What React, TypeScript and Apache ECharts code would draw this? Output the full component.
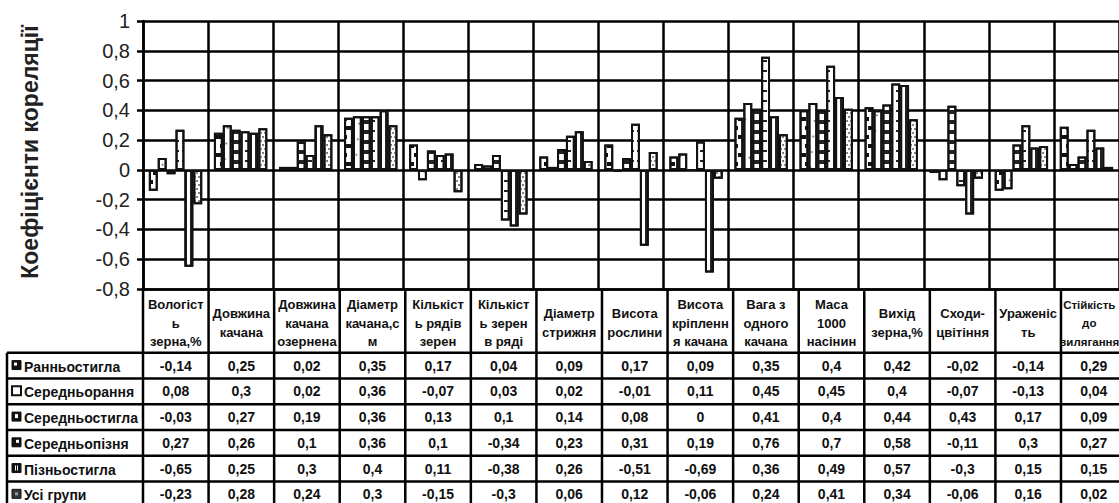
import React, { useEffect, useRef } from "react";
import * as echarts from "echarts";

const categories = [
  "Вологіст\nь\nзерна,%",
  "Довжина\nкачана",
  "Довжина\nкачана\nозернена",
  "Діаметр\nкачана,с\nм",
  "Кількіст\nь рядів\nзерен",
  "Кількіст\nь зерен\nв ряді",
  "Діаметр\nстрижня",
  "Висота\nрослини",
  "Висота\nкріпленн\nя качана",
  "Вага з\nодного\nкачана",
  "Маса\n1000\nнасінин",
  "Вихід\nзерна,%",
  "Сходи-\nцвітіння",
  "Ураженіс\nть",
  "Стійкість\nдо\nвилягання",
];

const seriesNames = [
  "Ранньостигла",
  "Середньорання",
  "Середньостигла",
  "Середньопізня",
  "Пізньостигла",
  "Усі групи",
];

const early = [-0.14, 0.25, 0.02, 0.35, 0.17, 0.04, 0.09, 0.17, 0.09, 0.35, 0.4, 0.42, -0.02, -0.14, 0.29];
const midEarly = [0.08, 0.3, 0.02, 0.36, -0.07, 0.03, 0.02, -0.01, 0.11, 0.45, 0.45, 0.4, -0.07, -0.13, 0.04];
const midRipe = [-0.03, 0.27, 0.19, 0.36, 0.13, 0.1, 0.14, 0.08, 0, 0.41, 0.4, 0.44, 0.43, 0.17, 0.09];
const midLate = [0.27, 0.26, 0.1, 0.36, 0.1, -0.34, 0.23, 0.31, 0.19, 0.76, 0.7, 0.58, -0.11, 0.3, 0.27];
const late = [-0.65, 0.25, 0.3, 0.4, 0.11, -0.38, 0.26, -0.51, -0.69, 0.36, 0.49, 0.57, -0.3, 0.15, 0.15];
const allGroups = [-0.23, 0.28, 0.24, 0.3, -0.15, -0.3, 0.06, 0.12, -0.06, 0.24, 0.41, 0.34, -0.06, 0.16, 0.02];

const seriesValues = [early, midEarly, midRipe, midLate, late, allGroups];

const yMin = -0.8;
const yMax = 1;
const yStep = 0.2;
const yTitle = "Коефіцієнти кореляції";

const FONT = '"Liberation Sans", Arial, Helvetica, sans-serif';
const W = 1119;
const H = 503;
const GRID_LEFT = 143;
const GRID_TOP = 21;
const GRID_BOTTOM_Y = 289;
const CAT_W = 65.57;
const HEADER_CY = 323;
const ROW_TOP = 352.7;
const ROW_H = 25.75;
const TABLE_LEFT = 7;
const INK = "#000";
const LW = 2.5;

const decals: any[] = [
  { symbol: "rect", symbolSize: 1, dashArrayX: [[5, 4], [0, 4, 5, 0]], dashArrayY: [4, 5], color: "#111" },
  { symbol: "rect", symbolSize: 0.5, rotation: Math.PI / 4, dashArrayX: [[3, 7]], dashArrayY: [3, 9], color: "#333" },
  { symbol: "rect", symbolSize: 1, dashArrayX: [[1, 0]], dashArrayY: [4, 6], color: "#222" },
  { symbol: "rect", symbolSize: 1, dashArrayX: [[4, 3]], dashArrayY: [2, 8], color: "#222" },
  { symbol: "rect", symbolSize: 1, dashArrayX: [[2, 3]], dashArrayY: [1, 0], color: "#222" },
  { symbol: "circle", symbolSize: 0.9, dashArrayX: [[2, 2], [0, 2, 2, 0]], dashArrayY: [2, 2], color: "#555" },
];

function fmt(v: number): string {
  const r = Math.round(v * 100) / 100;
  return String(r).replace(".", ",");
}

function txt(text: string, x: number, y: number, size: number, align: string): any {
  return {
    type: "text",
    silent: true,
    z: 51,
    x,
    y,
    style: {
      text,
      fontFamily: FONT,
      fontSize: size,
      fontWeight: "bold",
      fill: "#111",
      align,
      verticalAlign: "middle",
      textAlign: align,
      textVerticalAlign: "middle",
    },
  };
}

function buildGraphic(): any[] {
  const els: any[] = [];
  const bottom = H + 10;
  const right = W + 10;
  for (let k = 0; k <= categories.length; k++) {
    const x = GRID_LEFT + k * CAT_W;
    els.push({
      type: "line",
      silent: true,
      shape: { x1: x, y1: GRID_BOTTOM_Y, x2: x, y2: bottom },
      style: { stroke: INK, lineWidth: LW },
      z: 50,
    });
  }
  els.push({
    type: "line",
    silent: true,
    shape: { x1: TABLE_LEFT, y1: ROW_TOP, x2: TABLE_LEFT, y2: bottom },
    style: { stroke: INK, lineWidth: LW },
    z: 50,
  });
  for (let r = 0; r <= seriesNames.length; r++) {
    const y = ROW_TOP + r * ROW_H;
    els.push({
      type: "line",
      silent: true,
      shape: { x1: TABLE_LEFT, y1: y, x2: right, y2: y },
      style: { stroke: INK, lineWidth: LW },
      z: 50,
    });
  }
  // header cells (category names)
  const last = categories.length - 1;
  categories.forEach((c, i) => {
    const isLast = i === last;
    els.push({
      type: "text",
      silent: true,
      z: 51,
      x: GRID_LEFT + (i + 0.5) * CAT_W - (isLast ? 4.5 : 0),
      y: HEADER_CY,
      style: {
        text: c,
        fontFamily: FONT,
        fontSize: isLast ? 11.5 : 13,
        fontWeight: "bold",
        lineHeight: 18.5,
        fill: "#111",
        align: "center",
        verticalAlign: "middle",
        textAlign: "center",
        textVerticalAlign: "middle",
      },
    });
  });
  seriesNames.forEach((name, r) => {
    const cy = ROW_TOP + r * ROW_H + ROW_H / 2;
    const kx = 12;
    const ky = cy - 5;
    const ks = 9;
    if (r === 1) {
      els.push({ type: "rect", silent: true, z: 51, shape: { x: kx, y: ky, width: ks, height: ks }, style: { fill: "#fff", stroke: "#111", lineWidth: 2 } });
    } else {
      els.push({ type: "rect", silent: true, z: 51, shape: { x: kx, y: ky, width: ks, height: ks }, style: { fill: r === 5 ? "#333" : "#111", stroke: "#111", lineWidth: 1 } });
      let inner: any;
      if (r === 0) inner = { x: kx + 2, y: ky + 2, width: 3, height: 3 };
      else if (r === 2) inner = { x: kx + 3, y: ky + 2, width: 3, height: 4 };
      else if (r === 3) inner = { x: kx + 4, y: ky + 2, width: 3, height: 3 };
      else if (r === 4) inner = { x: kx + 3, y: ky + 2, width: 1, height: 5 };
      else inner = { x: kx + 3, y: ky + 3, width: 3, height: 3 };
      els.push({ type: "rect", silent: true, z: 52, shape: inner, style: { fill: r === 5 ? "#999" : "#fff" } });
      if (r === 4) {
        els.push({ type: "rect", silent: true, z: 52, shape: { x: kx + 5, y: ky + 2, width: 1, height: 5 }, style: { fill: "#fff" } });
      }
    }
    els.push(txt(name, 24, cy + 1, 14, "left"));
    seriesValues[r].forEach((v, c) => {
      els.push(txt(fmt(v), GRID_LEFT + (c + 0.5) * CAT_W, cy, 14, "center"));
    });
  });
  els.push({
    type: "text",
    silent: true,
    x: 30,
    y: 152,
    rotation: Math.PI / 2,
    style: {
      text: yTitle,
      fontFamily: FONT,
      fontSize: 23,
      fontWeight: "bold",
      fill: "#222",
      align: "center",
      verticalAlign: "middle",
      textAlign: "center",
      textVerticalAlign: "middle",
    },
  });
  return els;
}

export default function App() {
  const ref = useRef<HTMLDivElement>(null);
  useEffect(() => {
    if (!ref.current) return;
    const chart = echarts.init(ref.current, null, { renderer: "svg", width: W, height: H });
    const option: any = {
      animation: false,
      backgroundColor: "#fff",
      textStyle: { fontFamily: FONT },
      grid: {
        left: GRID_LEFT,
        top: GRID_TOP,
        width: CAT_W * categories.length,
        height: GRID_BOTTOM_Y - GRID_TOP,
        containLabel: false,
      },
      xAxis: {
        type: "category",
        data: categories,
        boundaryGap: true,
        axisLine: { show: true, onZero: false, lineStyle: { color: INK, width: LW } },
        axisTick: { show: false },
        splitLine: { show: true, interval: 0, lineStyle: { color: INK, width: LW } },
        axisLabel: { show: false },
      },
      yAxis: {
        type: "value",
        min: yMin,
        max: yMax,
        interval: yStep,
        axisLine: { show: true, lineStyle: { color: INK, width: LW } },
        axisTick: { show: true, length: 6, lineStyle: { color: INK, width: LW } },
        splitLine: { show: true, lineStyle: { color: INK, width: LW } },
        axisLabel: {
          margin: 13,
          fontSize: 20,
          color: "#222",
          fontFamily: FONT,
          formatter: (v: number) => fmt(v),
        },
      },
      series: seriesNames.map((name, i) => ({
        name,
        type: "bar",
        data: seriesValues[i],
        barGap: "0%",
        barCategoryGap: "18%",
        itemStyle: {
          color: "#fff",
          borderColor: "#111",
          borderWidth: 2,
          decal: decals[i],
        },
        emphasis: { disabled: true },
      })),
      graphic: buildGraphic(),
    };
    chart.setOption(option);
    return () => chart.dispose();
  }, []);
  return (
    <div
      ref={ref}
      style={{ position: "fixed", left: 0, top: 0, width: W, height: H, background: "#fff" }}
    />
  );
}
